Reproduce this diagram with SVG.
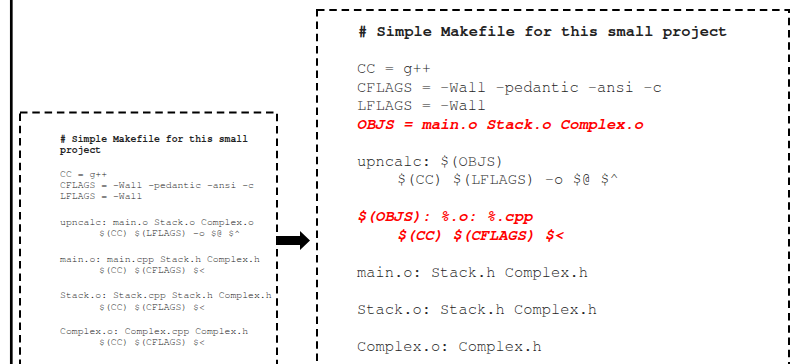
<svg xmlns="http://www.w3.org/2000/svg" width="792" height="364" viewBox="0 0 792 364">
<style>
.box{fill:#fff;stroke:#000;stroke-width:2;stroke-dasharray:7.5 4.8}
.s{font-family:"Nimbus Mono PS","FreeMono","Courier New","Liberation Mono",monospace;font-size:9.8px;fill:#222;white-space:pre}
.b{font-family:"Nimbus Mono PS","FreeMono","Courier New","Liberation Mono",monospace;font-size:15.4px;fill:#222;white-space:pre}
.bold{font-weight:bold}
.red{fill:#ff0000;font-weight:bold;font-style:italic}
</style>
<rect width="792" height="364" fill="#fff"/>
<line x1="11.3" y1="0" x2="11.3" y2="364" stroke="#000" stroke-width="2.7"/>
<g id="old-makefile">
<rect class="box" x="20" y="112.5" width="257" height="270"/>
<text class="s bold" x="60" y="141.7"># Simple Makefile for this small</text>
<text class="s bold" x="60" y="152.5">project</text>
<text class="s" x="60" y="177.3">CC = g++</text>
<text class="s" x="60" y="188.3">CFLAGS = -Wall -pedantic -ansi -c</text>
<text class="s" x="60" y="199">LFLAGS = -Wall</text>
<text class="s" x="60" y="225">upncalc: main.o Stack.o Complex.o</text>
<text class="s" x="99" y="236.3">$(CC) $(LFLAGS) -o $@ $^</text>
<text class="s" x="60" y="261.7">main.o: main.cpp Stack.h Complex.h</text>
<text class="s" x="99" y="273">$(CC) $(CFLAGS) $&lt;</text>
<text class="s" x="60" y="298.3">Stack.o: Stack.cpp Stack.h Complex.h</text>
<text class="s" x="99" y="310">$(CC) $(CFLAGS) $&lt;</text>
<text class="s" x="60" y="333.5">Complex.o: Complex.cpp Complex.h</text>
<text class="s" x="99" y="345">$(CC) $(CFLAGS) $&lt;</text>
</g>
<g id="new-makefile">
<rect class="box" x="317" y="10" width="472" height="380"/>
<text class="b bold" x="358" y="36"># Simple Makefile for this small project</text>
<text class="b" x="357" y="73">CC = g++</text>
<text class="b" x="357" y="91.5">CFLAGS = -Wall -pedantic -ansi -c</text>
<text class="b" x="357" y="110">LFLAGS = -Wall</text>
<text class="b red" x="357" y="128.5">OBJS = main.o Stack.o Complex.o</text>
<text class="b" x="357" y="165.5">upncalc: $(OBJS)</text>
<text class="b" x="397" y="184">$(CC) $(LFLAGS) -o $@ $^</text>
<text class="b red" x="357" y="221">$(OBJS): %.o: %.cpp</text>
<text class="b red" x="397" y="239.5">$(CC) $(CFLAGS) $&lt;</text>
<text class="b" x="357" y="276.5">main.o: Stack.h Complex.h</text>
<text class="b" x="357" y="313.5">Stack.o: Stack.h Complex.h</text>
<text class="b" x="357" y="350.5">Complex.o: Complex.h</text>
</g>
<g id="connectors">
<polygon points="276,236 300,236 300,231 310,240.5 300,250 300,245 276,245" fill="#000"/>
</g>
</svg>
